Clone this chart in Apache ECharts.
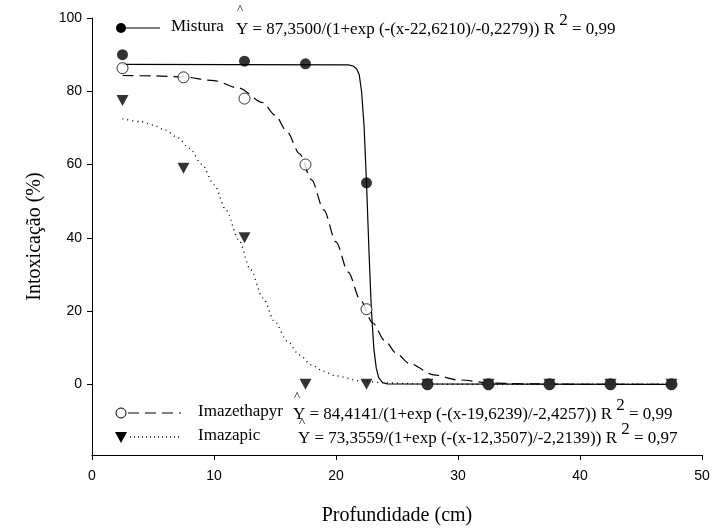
<!DOCTYPE html>
<html>
<head>
<meta charset="utf-8">
<script src="https://cdn.jsdelivr.net/npm/echarts@6/dist/echarts.min.js"></script>
<style>
  html, body { margin: 0; padding: 0; background: #fff; }
  #chart { width: 714px; height: 531px; }
</style>
</head>
<body>
<div id="chart"></div>
<script>
// Observed points: depth (cm) vs intoxication (%)
const depthMistura = [2.5, 12.5, 17.5, 22.5, 27.5, 32.5, 37.5, 42.5, 47.5];
const valMistura = [90, 88.2, 87.5, 55, 0, 0, 0, 0, 0];

const depthImazethapyr = [2.5, 7.5, 12.5, 17.5, 22.5, 27.5, 32.5, 37.5, 42.5, 47.5];
const valImazethapyr = [86.3, 83.8, 78, 60, 20.5, 0, 0, 0, 0, 0];

const depthImazapic = [2.5, 7.5, 12.5, 17.5, 22.5, 27.5, 32.5, 37.5, 42.5, 47.5];
const valImazapic = [77.5, 59, 40, 0, 0, 0, 0, 0, 0, 0];

// Fitted curves
const curveMisturaX = [2.5, 21, 21.4, 21.7, 21.9, 22.1, 22.3, 22.5, 22.7, 22.9, 23.1, 23.3, 23.5, 23.8, 24.2, 47.5];
const curveMisturaY = [87.35, 87.2, 86.9, 86.1, 84.6, 79.8, 70.5, 55, 36.6, 20.3, 9.8, 4.4, 1.8, 0.5, 0.1, 0];

const curveImazethapyrX = [2.5, 5, 7.5, 10, 12, 14, 15, 16, 17, 18, 19, 20, 21, 22, 23, 24, 25, 26, 28, 30, 33, 36, 40, 47.5];
const curveImazethapyrY = [84.3, 84.2, 83.9, 82.9, 80.9, 76.9, 73.5, 68.9, 63, 55.8, 47.6, 38.9, 30.6, 23, 16.8, 11.9, 8.3, 5.7, 2.6, 1.2, 0.3, 0.1, 0, 0];

const curveImazapicX = [2.5, 4, 5, 6, 7, 8, 9, 10, 11, 12, 13, 14, 15, 16, 17, 18, 19, 20, 22, 24, 27, 30, 47.5];
const curveImazapicY = [72.5, 71.7, 70.8, 69.4, 67.4, 64.4, 60.1, 54.5, 47.5, 39.6, 31.3, 23.6, 17, 11.8, 8, 5.3, 3.5, 2.3, 0.9, 0.4, 0.1, 0, 0];

const yTicks = [0, 20, 40, 60, 80, 100];

const equations = [
  { name: 'Mistura', eq: 'Y = 87,3500/(1+exp (-(x-22,6210)/-0,2279)) R', r2: '0,99' },
  { name: 'Imazethapyr', eq: 'Y = 84,4141/(1+exp (-(x-19,6239)/-2,4257)) R', r2: '0,99' },
  { name: 'Imazapic', eq: 'Y = 73,3559/(1+exp (-(x-12,3507)/-2,2139)) R', r2: '0,97' }
];

const zip = (xs, ys) => xs.map((x, i) => [x, ys[i]]);

const serif = 'Liberation Serif, Times New Roman, serif';
const sans = 'Liberation Sans, Arial, sans-serif';

function eqText(item, left, top) {
  return {
    type: 'text',
    left: left,
    top: top,
    style: {
      text: `{e|${item.eq}}{s| 2}{e| = ${item.r2}}`,
      rich: {
        e: { fontFamily: serif, fontSize: 17, lineHeight: 26, verticalAlign: 'bottom', fill: '#000' },
        s: { fontFamily: serif, fontSize: 17, lineHeight: 17, verticalAlign: 'top', fill: '#000' }
      }
    }
  };
}

function label(text, left, top) {
  return {
    type: 'text', left: left, top: top,
    style: { text: text, fontFamily: serif, fontSize: 17, fill: '#000' }
  };
}

function hat(left, top) {
  return {
    type: 'text', left: left, top: top,
    style: { text: '^', fontFamily: serif, fontSize: 13, fill: '#000' }
  };
}

const chart = echarts.init(document.getElementById('chart'));

const option = {
  backgroundColor: '#fff',
  animation: false,
  grid: { left: 92, right: 12, top: 18, bottom: 73 },
  xAxis: {
    type: 'value',
    min: 0,
    max: 50,
    interval: 10,
    name: 'Profundidade (cm)',
    nameLocation: 'middle',
    nameGap: 51,
    nameTextStyle: { fontFamily: serif, fontSize: 20, color: '#000' },
    axisLine: { onZero: false, lineStyle: { color: '#000', width: 1 } },
    axisTick: { inside: false, length: 5, lineStyle: { color: '#000' } },
    axisLabel: { fontFamily: sans, fontSize: 14, color: '#000', margin: 14 },
    splitLine: { show: false }
  },
  yAxis: {
    type: 'value',
    min: -19.3,
    max: 100,
    name: 'Intoxicação (%)',
    nameLocation: 'middle',
    nameGap: 47,
    nameTextStyle: { fontFamily: serif, fontSize: 20, color: '#000' },
    axisLine: { show: true, onZero: false, lineStyle: { color: '#000', width: 1 } },
    axisTick: { show: true, length: 5, customValues: yTicks, lineStyle: { color: '#000' } },
    axisLabel: { fontFamily: sans, fontSize: 14, color: '#000', margin: 10, customValues: yTicks },
    splitLine: { show: false }
  },
  graphic: [
    // legend samples
    { type: 'line', shape: { x1: 122, y1: 28, x2: 160, y2: 28 }, style: { stroke: '#000', lineWidth: 1.2 } },
    { type: 'circle', shape: { cx: 121, cy: 28, r: 5 }, style: { fill: '#000' } },
    { type: 'line', shape: { x1: 128, y1: 413, x2: 181, y2: 413 }, style: { stroke: '#000', lineWidth: 1.2, lineDash: [11, 6] } },
    { type: 'circle', shape: { cx: 121, cy: 413, r: 5 }, style: { fill: '#fff', stroke: '#000', lineWidth: 1 } },
    { type: 'line', shape: { x1: 130, y1: 437, x2: 181, y2: 437 }, style: { stroke: '#000', lineWidth: 1.3, lineDash: [1, 3] } },
    { type: 'polygon', shape: { points: [[115, 432], [127, 432], [121, 443]] }, style: { fill: '#000' } },
    label(equations[0].name, 171, 18),
    label(equations[1].name, 198, 403),
    label(equations[2].name, 198, 427),
    eqText(equations[0], 236, 12),
    eqText(equations[1], 293, 397),
    eqText(equations[2], 298, 421),
    hat(237, 3),
    hat(294, 390),
    hat(299, 416)
  ],
  series: [
    {
      name: 'Imazapic fit', type: 'line', data: zip(curveImazapicX, curveImazapicY),
      showSymbol: false, smooth: 0.3, smoothMonotone: 'x', silent: true,
      lineStyle: { color: '#000', width: 1.4, type: [1, 4] }, z: 2
    },
    {
      name: 'Imazethapyr fit', type: 'line', data: zip(curveImazethapyrX, curveImazethapyrY),
      showSymbol: false, smooth: 0.3, smoothMonotone: 'x', silent: true,
      lineStyle: { color: '#000', width: 1.2, type: [11, 6] }, z: 2
    },
    {
      name: 'Mistura fit', type: 'line', data: zip(curveMisturaX, curveMisturaY),
      showSymbol: false, smooth: false, silent: true,
      lineStyle: { color: '#000', width: 1.2 }, z: 2
    },
    {
      name: 'Imazapic', type: 'scatter', data: zip(depthImazapic, valImazapic),
      symbol: 'triangle', symbolRotate: 180, symbolSize: [12, 11],
      itemStyle: { color: '#000' }, z: 3
    },
    {
      name: 'Imazethapyr', type: 'scatter', data: zip(depthImazethapyr, valImazethapyr),
      symbol: 'circle', symbolSize: 11,
      itemStyle: { color: '#fff', borderColor: '#000', borderWidth: 1 }, z: 4
    },
    {
      name: 'Mistura', type: 'scatter', data: zip(depthMistura, valMistura),
      symbol: 'circle', symbolSize: 11,
      itemStyle: { color: '#000' }, z: 5
    }
  ]
};

chart.setOption(option);
</script>
</body>
</html>
